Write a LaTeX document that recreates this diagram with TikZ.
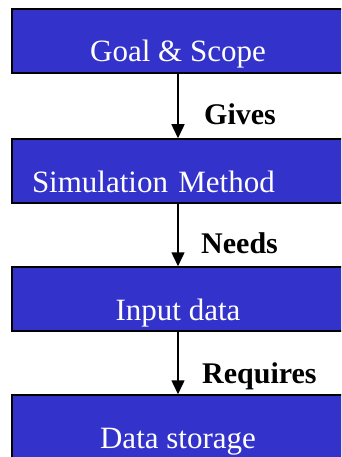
\documentclass[tikz,border=0pt]{standalone}
\usepackage{fontspec}
\setmainfont{Liberation Serif}
\usepackage{tikz}
\usetikzlibrary{arrows.meta,positioning}
\definecolor{boxblue}{HTML}{3333CC}

\begin{document}
\begin{tikzpicture}[x=1pt, y=-1pt]
			\tikzstyle{Stage}	= [rectangle, draw=black, line width=1.5pt, fill=boxblue, text=white, inner sep=0pt, minimum width=332pt, minimum height=64pt, text height=53pt, text depth=11pt, font=\fontsize{31}{37}\selectfont]
			\tikzstyle{Flow}	= [line width=1.5pt, -{Triangle[width=13pt, length=14pt]}]
			\tikzstyle{Verb}	= [inner sep=0pt, anchor=base west, font=\fontsize{30}{36}\selectfont\bfseries]
			
			\useasboundingbox (0,0) rectangle (341,457);
			\clip (0,0) rectangle (341,457);
			
			\node (goal) at (178, 41) [Stage] {Goal \& Scope};
			\node (method) at (178, 171) [Stage][text width=292pt, align=left] {Simulation Method};
			\node (input) at (178, 299) [Stage] {Input data};
			\node (storage) at (178, 427) [Stage] {Data storage};
			
			\draw (goal) to (method) [Flow];
			\draw (method) to (input) [Flow];
			\draw (input) to (storage) [Flow];
			
			\node (gives) at (204, 125) [Verb] {Gives};
			\node (needs) at (201, 253) [Verb] {Needs};
			\node (requires) at (202, 383) [Verb] {Requires};
		\end{tikzpicture}
\end{document}
